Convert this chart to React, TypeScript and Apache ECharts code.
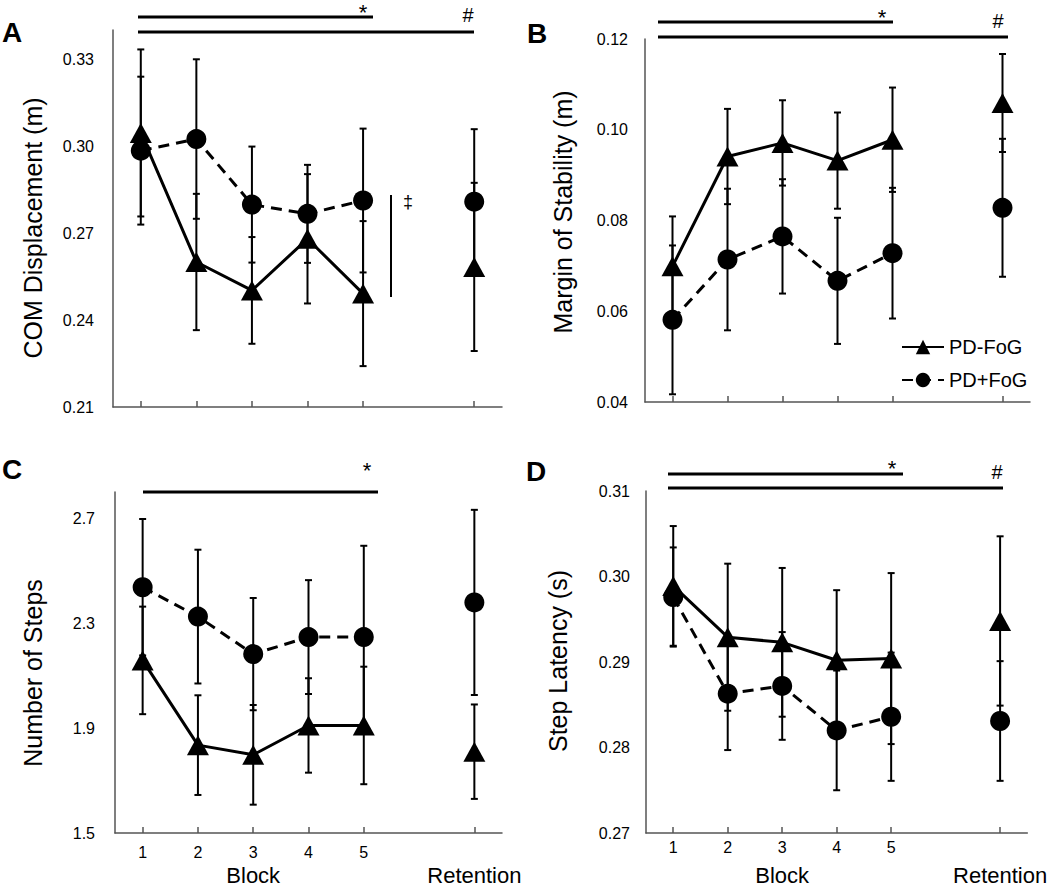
import React, { useEffect, useRef } from "react";
import * as echarts from "echarts";

const FONT = "'Liberation Sans', Arial, Helvetica, sans-serif";

// Categories: blocks 1-5, a gap, then retention
const blocks = ["1", "2", "3", "4", "5", "", "Retention"];

// Panel A: COM displacement (m)
const comFoGMinus = [0.3045, 0.26, 0.2502, 0.268, 0.2491, null, 0.2583];
const comFoGMinusSd = [0.0288, 0.0235, 0.0184, 0.0223, 0.025, null, 0.029];
const comFoGPlus = [0.2984, 0.3024, 0.2798, 0.2766, 0.2812, null, 0.2808];
const comFoGPlusSd = [0.0255, 0.0275, 0.02, 0.0169, 0.0248, null, 0.025];
const comTicks = [0.21, 0.24, 0.27, 0.3, 0.33];

// Panel B: Margin of stability (m)
const mosFoGMinus = [0.0699, 0.0941, 0.0971, 0.0932, 0.0978, null, 0.1059];
const mosFoGMinusSd = [0.011, 0.0105, 0.0094, 0.0106, 0.0115, null, 0.0108];
const mosFoGPlus = [0.0581, 0.0714, 0.0765, 0.0667, 0.0728, null, 0.0828];
const mosFoGPlusSd = [0.0164, 0.0156, 0.0126, 0.0139, 0.0144, null, 0.0152];
const mosTicks = [0.04, 0.06, 0.08, 0.1, 0.12];

// Panel C: Number of steps
const stepsFoGMinus = [2.158, 1.835, 1.798, 1.91, 1.91, null, 1.81];
const stepsFoGMinusSd = [0.205, 0.19, 0.19, 0.18, 0.224, null, 0.18];
const stepsFoGPlus = [2.437, 2.325, 2.182, 2.247, 2.247, null, 2.379];
const stepsFoGPlusSd = [0.26, 0.255, 0.214, 0.217, 0.348, null, 0.353];
const stepsTicks = [1.5, 1.9, 2.3, 2.7];

// Panel D: Step latency (s)
const latFoGMinus = [0.2989, 0.2929, 0.2923, 0.2902, 0.2904, null, 0.2948];
const latFoGMinusSd = [0.007, 0.0086, 0.0087, 0.0082, 0.01, null, 0.0099];
const latFoGPlus = [0.2976, 0.2863, 0.2872, 0.282, 0.2836, null, 0.2831];
const latFoGPlusSd = [0.0058, 0.0066, 0.0063, 0.007, 0.0075, null, 0.007];
const latTicks = [0.27, 0.28, 0.29, 0.3, 0.31];

const AXIS_COLOR = "#555";

function errData(means: (number | null)[], sd: (number | null)[]) {
  const out: number[][] = [];
  means.forEach((m, i) => {
    if (m == null || sd[i] == null) return;
    out.push([i, m - (sd[i] as number), m + (sd[i] as number)]);
  });
  return out;
}

const errRender = (params: any, api: any) => {
  const x = api.value(0);
  const lo = api.coord([x, api.value(1)]);
  const hi = api.coord([x, api.value(2)]);
  const w = 3.5;
  const style = { stroke: "#000", lineWidth: 2 };
  return {
    type: "group",
    children: [
      { type: "line", shape: { x1: lo[0], y1: lo[1], x2: hi[0], y2: hi[1] }, style },
      { type: "line", shape: { x1: lo[0] - w, y1: lo[1], x2: lo[0] + w, y2: lo[1] }, style },
      { type: "line", shape: { x1: hi[0] - w, y1: hi[1], x2: hi[0] + w, y2: hi[1] }, style },
    ],
  };
};

type Panel = {
  grid: { left: number; top: number; width: number; height: number };
  min: number;
  max: number;
  ticks: number[];
  digits: number;
  name: string;
  namePos: [number, number];
  labelMargin: number;
  showX: boolean;
  xMargin?: number;
  blockLH?: number;
  minus: (number | null)[];
  minusSd: (number | null)[];
  plus: (number | null)[];
  plusSd: (number | null)[];
};

const panels: Panel[] = [
  {
    grid: { left: 113, top: 30, width: 389, height: 377 },
    min: 0.21, max: 0.34, ticks: comTicks, digits: 2,
    name: "COM Displacement (m)", namePos: [33, 228], labelMargin: 19, showX: false,
    minus: comFoGMinus, minusSd: comFoGMinusSd, plus: comFoGPlus, plusSd: comFoGPlusSd,
  },
  {
    grid: { left: 645, top: 39, width: 385, height: 363 },
    min: 0.04, max: 0.12, ticks: mosTicks, digits: 2,
    name: "Margin of Stability (m)", namePos: [563, 212], labelMargin: 17, showX: false,
    minus: mosFoGMinus, minusSd: mosFoGMinusSd, plus: mosFoGPlus, plusSd: mosFoGPlusSd,
  },
  {
    grid: { left: 115, top: 492, width: 387, height: 348 },
    min: 1.5, max: 2.8, ticks: stepsTicks, digits: 1,
    name: "Number of Steps", namePos: [33, 673], labelMargin: 20, showX: true, xMargin: 9, blockLH: 26,
    minus: stepsFoGMinus, minusSd: stepsFoGMinusSd, plus: stepsFoGPlus, plusSd: stepsFoGPlusSd,
  },
  {
    grid: { left: 646, top: 491, width: 384, height: 344 },
    min: 0.27, max: 0.31, ticks: latTicks, digits: 2,
    name: "Step Latency (s)", namePos: [558, 661], labelMargin: 16, showX: true, xMargin: 4, blockLH: 36,
    minus: latFoGMinus, minusSd: latFoGMinusSd, plus: latFoGPlus, plusSd: latFoGPlusSd,
  },
];

function txt(text: string, x: number, y: number, size: number, bold = false, align = "center", rotation = 0) {
  return {
    type: "text",
    x,
    y,
    rotation,
    style: {
      text,
      fill: "#000",
      font: `${bold ? "bold " : ""}${size}px ${FONT}`,
      fontSize: size,
      fontWeight: bold ? "bold" : "normal",
      fontFamily: FONT,
      align,
      verticalAlign: "middle",
      textAlign: align,
      textVerticalAlign: "middle",
    },
  };
}

function hline(x1: number, x2: number, y: number) {
  return { type: "line", shape: { x1, y1: y, x2, y2: y }, style: { stroke: "#000", lineWidth: 3 } };
}

export default function App() {
  const ref = useRef<HTMLDivElement>(null);

  useEffect(() => {
    if (!ref.current) return;
    const chart = echarts.init(ref.current, undefined, { renderer: "svg" });

    const grid = panels.map((p) => ({ ...p.grid, containLabel: false }));
    const xAxis = panels.map((p, gi) => ({
      type: "category",
      gridIndex: gi,
      data: blocks,
      boundaryGap: true,
      axisLine: { onZero: false, lineStyle: { color: AXIS_COLOR, width: 1.5 } },
      axisTick: {
        show: true,
        inside: true,
        length: 6,
        alignWithLabel: true,
        interval: (i: number) => i !== 5,
        lineStyle: { color: AXIS_COLOR, width: 1.5 },
      },
      splitLine: { show: false },
      axisLabel: {
        show: p.showX,
        interval: 0,
        margin: p.xMargin ?? 6,
        color: "#000",
        fontFamily: FONT,
        formatter: (value: string, index: number) => {
          if (index === 2) return `{n|${value}}\n{b|Block}`;
          if (index === 5) return "";
          if (index === 6) return `{n| }\n{b|Retention}`;
          return `{n|${value}}`;
        },
        rich: {
          n: { fontSize: 16, lineHeight: 20, color: "#000", fontFamily: FONT },
          b: { fontSize: 22, lineHeight: p.blockLH ?? 26, color: "#000", fontFamily: FONT },
        },
      },
    }));
    const yAxis = panels.map((p, gi) => ({
      type: "value",
      gridIndex: gi,
      min: p.min,
      max: p.max,
      axisLine: { show: true, lineStyle: { color: AXIS_COLOR, width: 1.5 } },
      axisTick: { show: false },
      splitLine: { show: false },
      axisLabel: {
        customValues: p.ticks,
        formatter: (v: number) => v.toFixed(p.digits),
        fontSize: 16,
        color: "#000",
        fontFamily: FONT,
        margin: p.labelMargin,
      },
    }));

    const series: any[] = [];
    panels.forEach((p, gi) => {
      series.push({
        type: "custom",
        name: "err-plus-" + gi,
        xAxisIndex: gi,
        yAxisIndex: gi,
        renderItem: errRender,
        encode: { x: 0, y: [1, 2] },
        data: errData(p.plus, p.plusSd),
        z: 3,
        silent: true,
      });
      series.push({
        type: "custom",
        name: "err-minus-" + gi,
        xAxisIndex: gi,
        yAxisIndex: gi,
        renderItem: errRender,
        encode: { x: 0, y: [1, 2] },
        data: errData(p.minus, p.minusSd),
        z: 3,
        silent: true,
      });
      series.push({
        type: "line",
        name: "PD+FoG",
        xAxisIndex: gi,
        yAxisIndex: gi,
        data: p.plus,
        connectNulls: false,
        symbol: "circle",
        symbolSize: 20,
        itemStyle: { color: "#000" },
        lineStyle: { color: "#000", width: 3, type: [11, 7] },
        z: 4,
      });
      series.push({
        type: "line",
        name: "PD-FoG",
        xAxisIndex: gi,
        yAxisIndex: gi,
        data: p.minus,
        connectNulls: false,
        symbol: "triangle",
        symbolSize: [22, 20],
        itemStyle: { color: "#000" },
        lineStyle: { color: "#000", width: 3, type: "solid" },
        z: 5,
      });
    });

    const graphic: any[] = [
      // panel letters
      txt("A", 2, 32, 28, true, "left"),
      txt("B", 527, 33, 28, true, "left"),
      txt("C", 2, 469, 28, true, "left"),
      txt("D", 526, 471, 28, true, "left"),
      // y-axis titles
      ...panels.map((p) => txt(p.name, p.namePos[0], p.namePos[1], 25, false, "center", Math.PI / 2)),
      // panel A significance
      hline(138, 373, 17),
      txt("*", 363, 12, 22),
      hline(138, 474, 32),
      txt("#", 468, 15, 20),
      { type: "line", shape: { x1: 391, y1: 195, x2: 391, y2: 297 }, style: { stroke: "#000", lineWidth: 2 } },
      txt("\u2021", 408, 202, 18),
      // panel B
      hline(658, 893, 22),
      txt("*", 882, 17, 22),
      hline(658, 1008, 37),
      txt("#", 998, 21, 20),
      // panel C
      hline(143, 378, 492),
      txt("*", 367, 470, 22),
      // panel D
      hline(668, 903, 474),
      txt("*", 892, 468, 22),
      hline(668, 1003, 488),
      txt("#", 997, 472, 20),
    ];

    chart.setOption({
      animation: false,
      backgroundColor: "#fff",
      textStyle: { fontFamily: FONT },
      grid,
      xAxis,
      yAxis,
      series,
      graphic,
      legend: {
        orient: "vertical",
        left: 896,
        top: 332,
        itemWidth: 42,
        itemHeight: 18,
        itemGap: 13,
        selectedMode: false,
        data: ["PD-FoG", "PD+FoG"],
        textStyle: { fontSize: 20, color: "#000", fontFamily: FONT },
      },
    });

    return () => chart.dispose();
  }, []);

  return (
    <div
      ref={ref}
      style={{ position: "fixed", left: 0, top: 0, width: 1050, height: 886, background: "#fff" }}
    />
  );
}
